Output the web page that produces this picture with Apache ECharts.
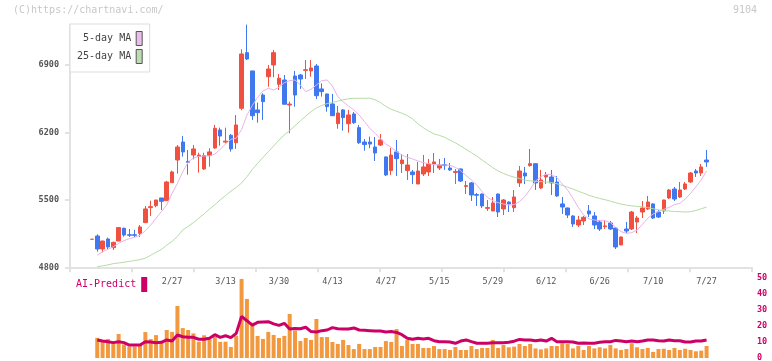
<!DOCTYPE html>
<html>
<head>
<meta charset="utf-8">
<title>9104</title>
<script src="https://cdn.jsdelivr.net/npm/echarts@6/dist/echarts.min.js"></script>
<style>
  html, body { margin: 0; padding: 0; background: #fff; }
  #chart { width: 772px; height: 361px; }
</style>
</head>
<body>
<div id="chart"></div>
<script>
// daily candles: open, close, low, high
const candles = [
  [5091, 5091, 5091, 5091], [5125, 4990, 4962, 5142], [4990, 5073, 4955, 5076], [5094, 5011, 4990, 5108],
  [5004, 5059, 4980, 5066], [5073, 5212, 5070, 5215], [5205, 5135, 5118, 5212], [5138, 5132, 5115, 5198],
  [5138, 5132, 5115, 5190], [5153, 5219, 5115, 5239], [5264, 5406, 5264, 5437], [5420, 5430, 5333, 5492],
  [5440, 5499, 5423, 5499], [5520, 5485, 5395, 5520], [5492, 5686, 5492, 5697], [5679, 5790, 5679, 5804],
  [5914, 6049, 5773, 6070], [6101, 5998, 5949, 6164], [5900, 5890, 5762, 6018], [5966, 6029, 5921, 6070],
  [5950, 5965, 5783, 5990], [5821, 5960, 5811, 5990], [5960, 5998, 5845, 6036], [6039, 6243, 6030, 6278],
  [6226, 6163, 6063, 6250], [6100, 6110, 6087, 6250], [6171, 6029, 6001, 6184], [6094, 6278, 6029, 6381],
  [6451, 7015, 6430, 7064], [7029, 6963, 6952, 7320], [6839, 6374, 6330, 6839], [6434, 6406, 6302, 6510],
  [6589, 6520, 6330, 6607], [6779, 6859, 6675, 6901], [6901, 7029, 6773, 7057], [6700, 6763, 6641, 6807],
  [6745, 6493, 6490, 6797], [6485, 6495, 6192, 6520], [6786, 6589, 6468, 6839], [6797, 6755, 6652, 6807],
  [6845, 6852, 6755, 6952], [6839, 6870, 6779, 6952], [6890, 6582, 6548, 6911], [6652, 6624, 6572, 6710],
  [6600, 6468, 6416, 6600], [6496, 6374, 6374, 6600], [6291, 6402, 6239, 6475], [6434, 6354, 6219, 6444],
  [6291, 6382, 6198, 6434], [6392, 6302, 6288, 6413], [6250, 6094, 6080, 6278], [6101, 6074, 6011, 6132],
  [6101, 6080, 6036, 6157], [6049, 5987, 5904, 6153], [6070, 6122, 6060, 6184], [5946, 5759, 5748, 5950],
  [5804, 5966, 5759, 6039], [5998, 5928, 5748, 6122], [5876, 5914, 5779, 5977], [5804, 5862, 5707, 5977],
  [5790, 5762, 5665, 5811], [5665, 5800, 5665, 5894], [5769, 5842, 5748, 5966], [5790, 5873, 5748, 5925],
  [5873, 5894, 5779, 5987], [5831, 5862, 5811, 5925], [5866, 5856, 5811, 5935], [5831, 5811, 5800, 5883],
  [5785, 5795, 5665, 5821], [5821, 5696, 5686, 5825], [5640, 5648, 5561, 5696], [5676, 5551, 5489, 5686],
  [5555, 5548, 5437, 5572], [5561, 5437, 5416, 5565], [5412, 5420, 5385, 5499], [5385, 5468, 5385, 5530],
  [5561, 5374, 5322, 5565], [5406, 5499, 5343, 5509], [5478, 5458, 5374, 5482], [5419, 5530, 5374, 5603],
  [5676, 5800, 5634, 5852], [5779, 5748, 5665, 5842], [5856, 5876, 5845, 6029], [5876, 5676, 5603, 5880],
  [5624, 5707, 5613, 5811], [5738, 5759, 5665, 5790], [5738, 5676, 5551, 5811], [5686, 5541, 5530, 5748],
  [5458, 5426, 5354, 5530], [5416, 5343, 5312, 5420], [5333, 5250, 5219, 5340], [5239, 5291, 5219, 5333],
  [5281, 5319, 5239, 5333], [5385, 5354, 5322, 5447], [5333, 5239, 5198, 5374], [5270, 5198, 5177, 5291],
  [5222, 5230, 5198, 5291], [5260, 5198, 5187, 5281], [5208, 5011, 4990, 5212], [5032, 5115, 5032, 5118],
  [5198, 5177, 5156, 5270], [5198, 5374, 5187, 5385], [5270, 5312, 5156, 5333], [5374, 5416, 5312, 5489],
  [5406, 5478, 5395, 5541], [5458, 5312, 5302, 5465], [5374, 5322, 5312, 5395], [5385, 5499, 5354, 5502],
  [5520, 5603, 5509, 5613], [5613, 5509, 5489, 5634], [5530, 5603, 5520, 5686], [5613, 5665, 5603, 5686],
  [5686, 5779, 5676, 5790], [5800, 5779, 5738, 5821], [5779, 5842, 5748, 5873], [5914, 5894, 5842, 6018]
];

const ma5 = [
  null, 4928, 4962, 4987, 5014, 5049, 5077, 5097, 5111, 5132, 5180, 5239, 5309, 5378, 5447, 5568,
  5672, 5793, 5890, 5935, 5952, 5956, 5956, 5977, 6025, 6080, 6129, 6140, 6230, 6380, 6480, 6565,
  6630, 6659, 6641, 6669, 6717, 6738, 6745, 6693, 6624, 6648, 6693, 6738, 6745, 6683, 6572, 6520,
  6475, 6434, 6382, 6312, 6243, 6191, 6132, 6080, 6046, 6001, 5966, 5942, 5925, 5904, 5887, 5876,
  5866, 5862, 5862, 5859, 5838, 5804, 5752, 5707, 5655, 5586, 5527, 5492, 5471, 5457, 5447, 5451,
  5482, 5534, 5610, 5696, 5741, 5766, 5762, 5731, 5665, 5603, 5516, 5423, 5343, 5302, 5291, 5284,
  5284, 5264, 5215, 5170, 5153, 5160, 5187, 5246, 5309, 5354, 5378, 5402, 5423, 5451, 5464, 5509,
  5568, 5637, 5707, 5800
];

const ma25 = [
  null, 4807, 4815, 4825, 4838, 4845, 4852, 4862, 4870, 4880, 4895, 4925, 4955, 4985, 5030, 5070,
  5120, 5187, 5225, 5264, 5310, 5355, 5405, 5450, 5500, 5545, 5590, 5630, 5675, 5740, 5815, 5880,
  5940, 6000, 6060, 6120, 6175, 6220, 6270, 6320, 6370, 6415, 6455, 6480, 6500, 6512, 6525, 6540,
  6550, 6555, 6555, 6555, 6555, 6540, 6510, 6470, 6440, 6420, 6400, 6375, 6340, 6290, 6250, 6215,
  6185, 6170, 6150, 6120, 6092, 6060, 6025, 5990, 5955, 5915, 5875, 5835, 5800, 5775, 5752, 5737,
  5722, 5705, 5698, 5693, 5690, 5686, 5681, 5668, 5650, 5632, 5612, 5590, 5570, 5548, 5530, 5515,
  5502, 5487, 5470, 5456, 5446, 5438, 5432, 5427, 5420, 5408, 5397, 5390, 5384, 5380, 5377, 5374,
  5378, 5390, 5408, 5425
];

const volume = [
  null, 12.6, 10.7, 11.9, 9.2, 15.0, 8.5, 7.2, 7.2, 8.4, 16.2, 11.8, 14.3, 10.4, 17.5, 16.3,
  32.5, 18.7, 17.5, 15.4, 10.2, 14.2, 11.6, 13.3, 10.1, 10.2, 6.9, 13.9, 49.4, 36.9, 22.1, 13.8,
  11.9, 16.3, 14.4, 12.5, 13.8, 27.5, 17.1, 10.6, 12.5, 11.3, 24.4, 13.1, 13.1, 10.0, 8.8, 11.3,
  8.1, 5.6, 8.8, 5.6, 5.6, 6.9, 6.9, 10.6, 10.0, 18.1, 7.5, 11.3, 8.8, 8.8, 6.3, 6.3,
  7.5, 5.6, 5.6, 5.0, 6.9, 5.0, 5.0, 7.5, 5.6, 6.3, 6.3, 11.3, 6.3, 8.1, 6.7, 7.1,
  8.8, 7.5, 8.8, 6.0, 5.4, 6.0, 7.5, 7.5, 9.2, 8.8, 6.0, 7.5, 5.0, 7.5, 6.0, 6.7,
  6.0, 8.1, 6.0, 5.0, 5.6, 9.2, 6.7, 5.6, 6.3, 3.8, 5.6, 5.8, 5.0, 6.3, 5.0, 5.8,
  5.0, 4.2, 4.6, 7.5
];

const aiPredict = [
  null, 11.3, 10.6, 10.2, 9.6, 10.2, 9.6, 8.1, 8.1, 8.1, 10.2, 10.0, 9.6, 9.8, 11.3, 10.6,
  14.4, 13.3, 12.9, 12.9, 11.7, 11.7, 12.3, 14.6, 12.9, 13.9, 12.7, 15.4, 26.0, 23.3, 20.5, 22.3,
  22.5, 22.7, 21.3, 20.4, 21.7, 18.1, 18.5, 18.3, 19.2, 16.5, 16.3, 17.1, 17.5, 19.0, 18.3, 18.1,
  18.1, 18.8, 17.5, 17.3, 17.1, 16.9, 16.9, 16.3, 16.5, 16.0, 14.6, 12.3, 11.7, 12.3, 11.9, 12.3,
  10.8, 10.2, 10.2, 10.0, 9.2, 10.6, 11.3, 10.2, 9.2, 9.2, 9.2, 9.6, 9.6, 9.6, 9.8, 10.5,
  11.6, 11.3, 11.3, 10.8, 11.3, 10.6, 12.3, 10.2, 10.2, 10.2, 10.0, 9.2, 9.4, 9.2, 9.2, 9.8,
  10.2, 10.2, 11.0, 10.6, 10.2, 10.6, 10.2, 10.6, 11.3, 11.3, 10.8, 10.6, 11.3, 10.8, 10.8, 10.0,
  10.0, 10.6, 10.6, 11.3
];

const dateIndex = [15, 25, 35, 45, 55, 65, 75, 85, 95, 105, 115];
const dateLabels = ['2/27', '3/13', '3/30', '4/13', '4/27', '5/15', '5/29', '6/12', '6/26', '7/10', '7/27'];
const priceTicks = [4800, 5500, 6200, 6900];

const RED = '#f05040';
const BLUE = '#4078f0';
const MAGENTA = '#cc0066';
const FONT = 'DejaVu Sans Mono';
const XMIN = -4.1;
const XMAX = 123.5;

const chart = echarts.init(document.getElementById('chart'));

const option = {
  animation: false,
  backgroundColor: '#fff',
  textStyle: { fontFamily: FONT },
  title: [
    {
      text: '(C)https://chartnavi.com/',
      left: 13,
      top: 5,
      padding: 0,
      textStyle: { color: '#c8c8c8', fontSize: 10, fontWeight: 'normal', fontFamily: FONT },
    },
    {
      text: '9104',
      right: 15,
      top: 5,
      padding: 0,
      textStyle: { color: '#c8c8c8', fontSize: 10, fontWeight: 'normal', fontFamily: FONT },
    },
  ],
  legend: [
    {
      data: ['5-day MA', '25-day MA'],
      orient: 'vertical',
      align: 'right',
      left: 70,
      top: 24,
      padding: [7, 7, 8, 7],
      itemGap: 3,
      itemWidth: 6,
      itemHeight: 14,
      icon: 'rect',
      backgroundColor: '#fff',
      borderColor: '#ddd',
      borderWidth: 1,
      selectedMode: false,
      itemStyle: { borderColor: '#555', borderWidth: 1 },
      textStyle: { fontSize: 10, color: '#444', fontFamily: FONT },
    },
    {
      data: ['AI-Predict'],
      align: 'right',
      left: 76,
      top: 277,
      padding: 0,
      itemWidth: 6,
      itemHeight: 15,
      icon: 'rect',
      selectedMode: false,
      textStyle: { fontSize: 10, color: MAGENTA, fontFamily: FONT },
    },
  ],
  grid: [
    { left: 70, right: 20, top: 24.6, bottom: 93.7, outerBoundsMode: 'none' },
    { left: 70, right: 20, top: 278, bottom: 3, outerBoundsMode: 'none' },
  ],
  xAxis: [
    {
      // date labels under the candles
      type: 'value',
      gridIndex: 0,
      position: 'bottom',
      min: XMIN,
      max: XMAX,
      axisLine: { show: false, onZero: false },
      axisTick: { show: false },
      splitLine: { show: false },
      axisLabel: {
        customValues: dateIndex,
        formatter: (v) => dateLabels[dateIndex.indexOf(v)] || '',
        margin: 10,
        color: '#555',
        fontSize: 8.5,
        fontFamily: FONT,
      },
    },
    {
      // plain tick frame along the bottom
      type: 'value',
      gridIndex: 0,
      position: 'bottom',
      min: 0,
      max: 11,
      interval: 1,
      axisLine: { show: true, onZero: false, lineStyle: { color: '#e2e2e2', width: 2 } },
      axisTick: { show: true, length: 5, lineStyle: { color: '#e2e2e2', width: 2 } },
      axisLabel: { show: false },
      splitLine: { show: false },
    },
    {
      type: 'value',
      gridIndex: 1,
      min: XMIN,
      max: XMAX,
      show: false,
      splitLine: { show: false },
    },
  ],
  yAxis: [
    {
      type: 'value',
      gridIndex: 0,
      min: 4800,
      max: 7320,
      axisLine: { show: true, onZero: false, lineStyle: { color: '#e2e2e2', width: 2 } },
      axisTick: { show: true, length: 5, customValues: priceTicks, lineStyle: { color: '#e2e2e2', width: 2 } },
      axisLabel: {
        customValues: priceTicks,
        formatter: (v) => String(v),
        margin: 11,
        color: '#555',
        fontSize: 8.5,
        fontWeight: 'bold',
        fontFamily: FONT,
      },
      splitLine: { show: false },
    },
    {
      type: 'value',
      gridIndex: 1,
      position: 'right',
      min: 0,
      max: 50,
      interval: 10,
      axisLine: { show: false },
      axisTick: { show: false },
      splitLine: { show: false },
      axisLabel: { margin: 5, color: MAGENTA, fontSize: 8.5, fontWeight: 'bold', fontFamily: FONT },
    },
  ],
  series: [
    {
      name: 'price',
      type: 'candlestick',
      xAxisIndex: 0,
      yAxisIndex: 0,
      barWidth: 4,
      encode: { x: 0, y: [1, 2, 3, 4] },
      data: candles.map((c, i) => [i, c[0], c[1], c[2], c[3]]),
      itemStyle: {
        color: RED,
        color0: BLUE,
        borderColor: RED,
        borderColor0: BLUE,
        borderWidth: 1,
      },
    },
    {
      name: '5-day MA',
      type: 'line',
      xAxisIndex: 0,
      yAxisIndex: 0,
      symbol: 'none',
      data: ma5.map((v, i) => [i, v]),
      lineStyle: { color: '#e8b4ec', width: 1 },
      itemStyle: { color: '#ecbcec' },
    },
    {
      name: '25-day MA',
      type: 'line',
      xAxisIndex: 0,
      yAxisIndex: 0,
      symbol: 'none',
      data: ma25.map((v, i) => [i, v]),
      lineStyle: { color: '#b5dba6', width: 1 },
      itemStyle: { color: '#bcdcb4' },
    },
    {
      name: 'volume',
      type: 'bar',
      xAxisIndex: 2,
      yAxisIndex: 1,
      barWidth: 4,
      data: volume.map((v, i) => [i, v]),
      itemStyle: { color: '#f29940' },
    },
    {
      name: 'AI-Predict',
      type: 'line',
      xAxisIndex: 2,
      yAxisIndex: 1,
      symbol: 'none',
      data: aiPredict.map((v, i) => [i, v]),
      lineStyle: { color: MAGENTA, width: 3 },
      itemStyle: { color: MAGENTA },
    },
  ],
};

chart.setOption(option);
</script>
</body>
</html>
